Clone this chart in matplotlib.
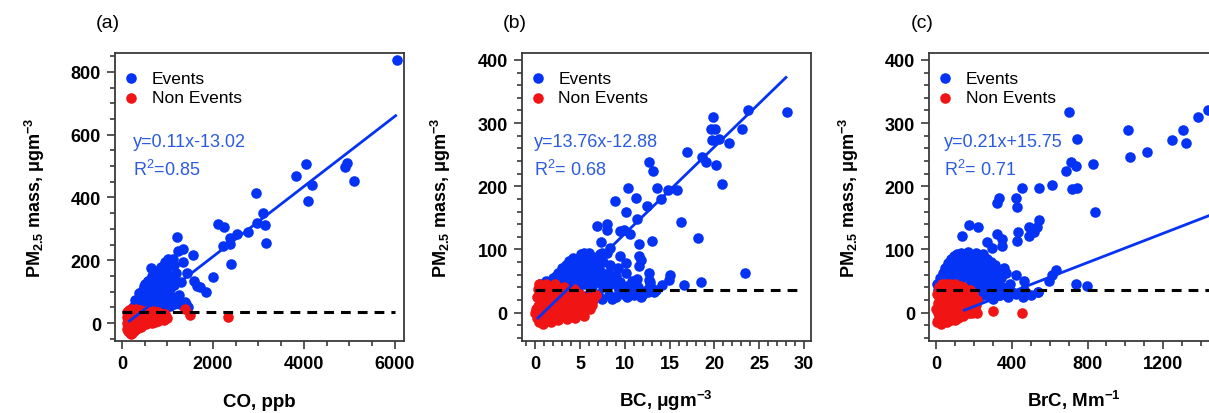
import matplotlib
matplotlib.use("Agg")
import matplotlib.pyplot as plt
from matplotlib.ticker import MultipleLocator

plt.rcParams['font.family'] = ['Liberation Sans', 'DejaVu Sans']
plt.rcParams['axes.unicode_minus'] = False

# ---------------- data ----------------
# (a) CO vs PM2.5
co_ev_x = [250, 320, 400, 480, 560, 640, 720, 800, 880, 960, 1050, 1150, 1270, 1380, 1450,
           300, 380, 450, 520, 600, 680, 760, 840, 920, 1000, 1080, 1120,
           400, 470, 540, 610, 690, 760, 830, 900, 970, 1050,
           500, 580, 650, 720, 790, 860, 940, 1020, 1100, 1180,
           700, 800, 900, 1000, 1080, 1150, 1120,
           350, 420, 500, 580, 660, 740, 820, 900, 980, 1060, 450, 560, 640, 720, 800, 880, 960,
           600, 680, 750, 820, 900, 980, 1060, 1140, 550, 650, 780, 850, 950, 1180, 1250, 1230,
           290, 380, 480, 580, 700, 850, 950, 1020,
           6037, 3824, 4037, 4169, 4095, 4901, 4938, 5106, 2938, 3099, 2960, 3143, 3158, 2776,
           2520, 2374, 2374, 2213, 2117, 2249, 2389, 1993, 1641, 1839, 1582, 1567, 1348, 1422,
           1202, 1238, 1340, 1106, 630, 1300, 1128, 1400, 1714]
co_ev_pm = [50, 55, 48, 52, 50, 55, 48, 52, 45, 50, 55, 60, 62, 66, 50,
            65, 75, 85, 70, 80, 72, 85, 78, 88, 75, 82, 70,
            95, 105, 100, 112, 98, 115, 105, 118, 100, 110,
            125, 135, 128, 145, 138, 148, 135, 150, 140, 130,
            160, 155, 165, 175, 190, 185, 205,
            45, 62, 62, 70, 65, 62, 65, 62, 62, 68, 72, 88, 95, 88, 95, 100, 90,
            118, 118, 125, 125, 135, 125, 130, 120, 108, 150, 165, 160, 155, 160, 90, 75,
            72, 95, 118, 135, 155, 180, 195, 205,
            839, 469, 505, 441, 390, 496, 510, 452, 413, 352, 318, 313, 254, 289,
            284, 270, 252, 244, 315, 307, 188, 146, 119, 98, 135, 217, 193, 159,
            273, 230, 235, 193, 175, 130, 80, 60, 115]
co_ne_x = [120, 160, 200, 250, 300, 350, 400, 450, 500, 560, 620, 680, 740, 800, 880, 950,
           100, 140, 180, 230, 280, 330, 380, 430, 480, 540, 600, 660, 720, 780, 850, 920, 1000,
           100, 130, 170, 210, 250, 300, 350, 400, 460, 520, 580, 650, 720, 800,
           110, 140, 170, 200, 230, 260, 300, 350, 420,
           1380, 1490, 2330]
co_ne_pm = [35, 42, 45, 40, 44, 38, 42, 36, 40, 38, 35, 40, 34, 36, 30, 28,
            20, 15, 22, 12, 18, 10, 20, 14, 22, 12, 18, 10, 20, 14, 16, 10, 15,
            0, -8, 2, -5, 3, -6, 0, -4, 4, -2, 2, 0, 5, 6,
            -18, -25, -30, -36, -32, -26, -20, -15, -12,
            45, 26, 20]
co_fit_x = [140, 6040]
co_fit_pm = [4, 663]

# (b) BC vs PM2.5
bc_ev_x = [0.5, 1.2, 2.0, 2.6, 3.0, 3.4, 3.8, 4.2, 4.6, 5.0, 5.4, 5.8, 6.2, 2.8, 3.2, 3.6, 4.0,
           4.4, 4.8, 5.2, 5.6, 6.0, 6.5, 7.0, 7.4, 7.8, 8.2, 8.6, 9.0, 4.0, 4.8, 5.5, 6.3, 7.0,
           7.6, 8.4, 9.2, 6.0, 6.8, 7.5, 8.2, 9.0, 9.8, 10.5, 11.2, 12.0, 6.5, 7.2, 8.0, 5.5,
           3.5, 2.2,
           1.5, 2.5, 3.0, 3.8, 4.3, 5.0, 5.8, 6.6, 7.3, 8.0, 3.3, 3.9, 4.7, 5.3, 6.0, 6.8, 7.6,
           8.4, 9.2, 2.3, 1.8, 4.4, 5.1, 6.0, 9.5, 10.2, 10.8, 11.5, 12.5, 13.5, 5.2, 5.9, 7.0,
           8.6, 9.4, 10.2, 11.0, 11.8, 12.6, 13.3,
           6.9, 8.0, 8.0, 9.5, 10.6, 11.4, 12.5, 13.0, 11.6, 7.3, 8.4, 9.5, 11.6, 11.6, 10.1,
           10.1, 12.7, 11.4, 12.8, 8.9, 10.1, 10.4, 11.2, 13.6, 12.7, 13.2,
           14.1, 14.8, 15.8, 16.9, 16.3, 18.2, 18.6, 19.1, 20.2, 20.9, 19.9, 19.6, 20.1, 19.7,
           20.5, 21.6, 23.1, 23.8, 28.1, 23.4, 18.5, 16.6, 15.1, 14.9, 14.2, 12.7, 12.8, 10.9,
           7.5, 9.9, 11.8]
bc_ev_pm = [45, 50, 55, 62, 70, 75, 82, 86, 80, 85, 78, 84, 76, 45, 55, 60, 68,
            64, 58, 66, 60, 55, 62, 70, 65, 58, 62, 50, 58, 45, 40, 45, 42, 48,
            40, 45, 40, 30, 25, 22, 28, 25, 30, 28, 32, 30, 88, 92, 95, 95,
            42, 40,
            40, 48, 52, 50, 55, 52, 50, 52, 55, 50, 65, 72, 72, 72, 68, 75, 80,
            75, 70, 58, 48, 78, 92, 95, 48, 42, 50, 40, 35, 35, 25, 22, 30,
            22, 32, 24, 28, 24, 32, 33,
            137, 140, 130, 129, 124, 148, 169, 114, 108, 111, 103, 90, 90, 74, 78,
            63, 63, 53, 49, 177, 160, 197, 182, 198, 238, 224,
            180, 194, 194, 255, 143, 118, 247, 238, 234, 203, 309, 290, 290, 274,
            275, 269, 290, 320, 318, 63, 48, 43, 60, 52, 43, 52, 43, 34,
            95, 130, 83]
bc_ne_x = [0.0, 0.3, 0.2, 0.5, 0.4, 0.6, 0.8, 0.7, 1.0, 1.1, 1.2, 1.3, 1.5, 1.6, 1.7, 1.9,
           2.0, 2.1, 2.3, 2.4, 2.6, 2.7, 2.9, 3.0, 3.2, 3.3, 3.5, 3.7, 3.8, 4.0, 4.2, 4.4,
           4.6, 4.8, 5.0, 5.2, 5.4, 5.7, 6.0, 6.3, 6.8, 5.5, 4.5, 3.6, 2.5, 1.8, 0.9, 0.3,
           0.1, 0.5, 0.9, 1.4, 1.5, 2.2, 2.2, 2.8, 3.1, 3.4, 4.1, 4.9, 5.8, 6.5, 1.0, 0.4,
           2.6, 3.0, 4.3, 3.9, 5.1, 6.1, 1.3, 0.7, 0.2, 1.0, 2.0, 3.6, 4.7]
bc_ne_pm = [0, 10, -8, 20, -15, 30, 40, 5, -12, 15, 45, 25, -5, 35, 8, 42,
            18, -8, 30, 2, 38, 12, -3, 25, 40, 8, 20, 32, 2, 15, 28, 5,
            22, 10, 30, 0, 18, 8, 24, 12, 28, -5, -8, -10, -12, -15, -18, 38,
            5, -5, 25, 8, 18, 45, 10, 22, -5, 30, 0, 20, 20, 20, 32, 45,
            -8, 12, 38, 25, 12, 5, -10, -10, 25, 0, 30, 15, 30]
bc_fit_x = [0.2, 28.1]
bc_fit_pm = [-10.1, 373.8]

# (c) BrC vs PM2.5
brc_ev_x = [5, 20, 35, 50, 65, 80, 95, 110, 130, 150, 170, 190, 210, 230, 250, 270, 290, 310,
            40, 60, 80, 100, 120, 140, 160, 180, 200, 220, 240, 260, 280, 300, 320,
            100, 130, 160, 190, 220, 250, 280, 310, 150, 180, 210, 240, 270, 300,
            180, 220, 260, 300, 340, 380, 420, 460, 500, 540, 350, 390, 330, 360,
            10, 30, 50, 70, 90, 110, 130, 150, 170, 190, 210, 230, 250, 270, 290, 25, 45, 75,
            105, 120, 140, 160, 200, 240, 280, 300, 320, 345, 120, 200, 330, 370,
            704, 746, 711, 738, 685, 831, 720, 746, 841, 1016, 1024, 1114, 1248, 1306, 1318,
            1382, 1438, 456, 544, 611, 333, 324, 421, 428, 174, 223, 139, 324, 433, 491, 544,
            535, 429, 350, 271, 297, 350, 519, 491, 368, 421, 465, 632, 613, 597, 738, 799,
            466, 380, 541, 400, 335, 282, 229]
brc_ev_pm = [45, 55, 62, 70, 78, 85, 90, 92, 95, 92, 96, 90, 95, 88, 92, 85, 80, 75,
             45, 55, 65, 75, 80, 70, 78, 82, 72, 78, 70, 66, 60, 55, 50,
             50, 55, 60, 58, 55, 50, 45, 42, 40, 45, 40, 35, 38, 32,
             25, 20, 28, 22, 28, 25, 30, 24, 28, 33, 40, 45, 60, 70,
             35, 40, 50, 60, 65, 62, 68, 58, 65, 68, 60, 62, 58, 55, 65, 48, 58, 72,
             85, 90, 88, 86, 85, 80, 75, 70, 65, 55, 45, 50, 38, 30,
             318, 275, 238, 232, 224, 236, 195, 197, 160, 289, 247, 254, 273, 289, 269,
             309, 320, 197, 197, 202, 182, 174, 181, 167, 138, 136, 121, 124, 128, 136, 147,
             135, 113, 116, 111, 103, 106, 127, 121, 63, 60, 50, 68, 60, 50, 45, 42,
             35, 37, 33, 32, 28, 40, 32]
brc_ne_x = [5, 10, 8, 12, 15, 20, 25, 28, 32, 35, 40, 45, 50, 55, 60, 62, 68, 72, 78, 82,
            88, 92, 98, 105, 110, 115, 120, 125, 130, 138, 145, 150, 160, 165, 175, 185,
            195, 205, 215, 140, 100, 60, 25, 40, 100, 218, 303, 452, 176,
            2, 18, 30, 48, 52, 58, 70, 85, 90, 108, 112, 118, 135, 142, 155, 170, 180, 190,
            200, 210, 12, 35, 80, 5, 22, 65, 75, 160]
brc_ne_pm = [-15, 0, 15, 30, 40, -10, 8, 22, -5, 35, 12, -12, 28, 45, 0, 18, 38, -8, 10, 28,
             40, -3, 18, 32, 5, -8, 22, 42, 10, 30, 0, 18, 35, 8, 25, 12,
             30, 5, 20, -5, -12, -15, -18, 42, 45, 0, 2, 0, 0,
             5, 25, 45, 5, -5, 32, 20, 0, 15, -5, 38, 8, 15, 40, 25, 15, 35, 0,
             20, 12, -12, -15, -12, 30, 40, 40, 45, 0]
brc_fit_x = [143, 1489]
brc_fit_pm = [3, 159]

threshold = 35

panels = [
    dict(ev_x=co_ev_x, ev_y=co_ev_pm, ne_x=co_ne_x, ne_y=co_ne_pm, fx=co_fit_x, fy=co_fit_pm,
         xlim=(-154, 6200), ylim=(-57, 860), xmaj=2000, xmin=500, ymaj=200, ymin=50,
         hx=(0, 6000), xlabel='CO, ppb', eq='y=0.11x-13.02', r2='R$^{\\mathregular{2}}$=0.85',
         tag='(a)', left=115, eqx=133),
    dict(ev_x=bc_ev_x, ev_y=bc_ev_pm, ne_x=bc_ne_x, ne_y=bc_ne_pm, fx=bc_fit_x, fy=bc_fit_pm,
         xlim=(-1.5, 30.75), ylim=(-45, 411), xmaj=5, xmin=1, ymaj=100, ymin=20,
         hx=(0, 29.6), xlabel='BC, μgm$^{\\mathregular{-3}}$', eq='y=13.76x-12.88',
         r2='R$^{\\mathregular{2}}$= 0.68', tag='(b)', left=521.7, eqx=534),
    dict(ev_x=brc_ev_x, ev_y=brc_ev_pm, ne_x=brc_ne_x, ne_y=brc_ne_pm, fx=brc_fit_x, fy=brc_fit_pm,
         xlim=(-37, 1489), ylim=(-45, 411), xmaj=400, xmin=100, ymaj=100, ymin=20,
         hx=(0, 1489), xlabel='BrC, Mm$^{\\mathregular{-1}}$', eq='y=0.21x+15.75',
         r2='R$^{\\mathregular{2}}$= 0.71', tag='(c)', left=929, eqx=944),
]

W, H = 1209, 414
fig = plt.figure(figsize=(W / 100, H / 100), dpi=100)

blue = '#0433F5'
red = '#F01414'
eqblue = '#2B5BE0'
frame = '#3A3A3A'

for p in panels:
    ax = fig.add_axes([p['left'] / W, (414 - 342) / H, 289 / W, 288 / H])
    ax.scatter(p['ev_x'], p['ev_y'], s=58, color=blue, linewidths=0, zorder=2, label='Events')
    ax.scatter(p['ne_x'], p['ne_y'], s=58, color=red, linewidths=0, zorder=3, label='Non Events')
    ax.plot(p['fx'], p['fy'], color=blue, lw=2.0, zorder=4, solid_capstyle='butt')
    ax.plot(p['hx'], [threshold, threshold], color='black', lw=2.2, ls=(0, (3.2, 2.3)), zorder=5)
    ax.set_xlim(*p['xlim'])
    ax.set_ylim(*p['ylim'])
    ax.xaxis.set_major_locator(MultipleLocator(p['xmaj']))
    ax.xaxis.set_minor_locator(MultipleLocator(p['xmin']))
    ax.yaxis.set_major_locator(MultipleLocator(p['ymaj']))
    ax.yaxis.set_minor_locator(MultipleLocator(p['ymin']))
    ax.tick_params(which='both', direction='out', color=frame, width=1.2, top=False, right=False)
    ax.tick_params(which='major', length=6, labelsize=13, pad=4)
    ax.tick_params(which='minor', length=3.5)
    for lab in ax.get_xticklabels() + ax.get_yticklabels():
        lab.set_fontweight('bold')
    for sp in ax.spines.values():
        sp.set_color(frame)
        sp.set_linewidth(1.3)
    ax.set_xlabel(p['xlabel'], fontsize=13.5, fontweight='bold', va='baseline')
    ax.xaxis.set_label_coords(0.5, -0.226)
    ax.set_ylabel('PM$_{\\mathregular{2.5}}$ mass, μgm$^{\\mathregular{-3}}$', fontsize=13,
                  fontweight='bold')
    ax.yaxis.set_label_coords(-0.236, 0.5)
    ax.legend(loc='upper left', bbox_to_anchor=(0.010, 0.957), frameon=False, fontsize=12.5,
              handlelength=0.9, handletextpad=0.75, labelspacing=0.25, borderaxespad=0.0,
              borderpad=0.3, scatterpoints=1)
    ex = (p['eqx'] - p['left']) / 289
    ax.text(ex, 0.691, p['eq'], transform=ax.transAxes, color=eqblue, fontsize=13, va='center')
    ax.text(ex, 0.597, p['r2'], transform=ax.transAxes, color=eqblue, fontsize=13, va='center')
    fig.text((p['left'] - 7) / W, 1 - 23 / H, p['tag'], fontsize=14, ha='center', va='center')

fig.savefig('out.png', dpi=100)
